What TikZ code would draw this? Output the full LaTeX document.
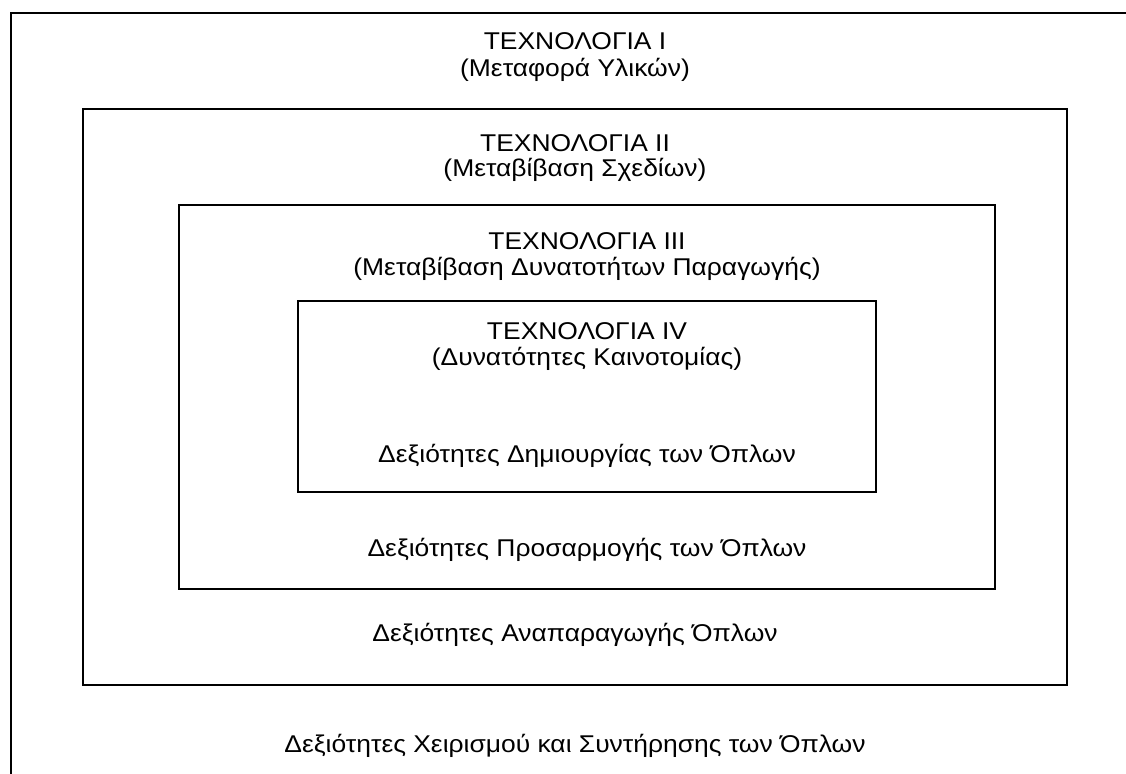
\documentclass[tikz,border=0pt]{standalone}
\usepackage{fontspec}
\setmainfont{Liberation Sans}
\tikzset{
  lbl/.style={anchor=base, inner sep=0pt, xscale=1.09, font=\fontsize{13.8}{15}\selectfont},
  frame/.style={line width=1pt}
}

\begin{document}
\begin{tikzpicture}[x=0.02cm, y=-0.02cm]
\clip (0, 0) rectangle (1126, 774);
\fill[white] (0, 0) rectangle (1126, 774);
\draw[frame] (11, 13) rectangle (1140, 790); % cut by the page edge
\draw[frame] (83, 109) rectangle (1067, 685);
\draw[frame] (179, 205) rectangle (995, 589);
\draw[frame] (298, 301) rectangle (876, 492);
\node[lbl] (tech1) at (575, 50) {ΤΕΧΝΟΛΟΓΙΑ I};
\node[lbl] (tech1b) at (575, 76) {(Μεταφορά Υλικών)};
\node[lbl] (tech2) at (575, 151) {ΤΕΧΝΟΛΟΓΙΑ II};
\node[lbl] (tech2b) at (575, 176) {(Μεταβίβαση Σχεδίων)};
\node[lbl] (tech3) at (587, 249) {ΤΕΧΝΟΛΟΓΙΑ III};
\node[lbl] (tech3b) at (587, 275) {(Μεταβίβαση Δυνατοτήτων Παραγωγής)};
\node[lbl] (tech4) at (587, 339) {ΤΕΧΝΟΛΟΓΙΑ IV};
\node[lbl] (tech4b) at (587, 365) {(Δυνατότητες Καινοτομίας)};
\node[lbl] (skill4) at (587, 462) {Δεξιότητες Δημιουργίας των Όπλων};
\node[lbl] (skill3) at (587, 556) {Δεξιότητες Προσαρμογής των Όπλων};
\node[lbl] (skill2) at (575, 641) {Δεξιότητες Αναπαραγωγής Όπλων};
\node[lbl] (skill1) at (575, 752) {Δεξιότητες Χειρισμού και Συντήρησης των Όπλων};
\end{tikzpicture}
\end{document}
